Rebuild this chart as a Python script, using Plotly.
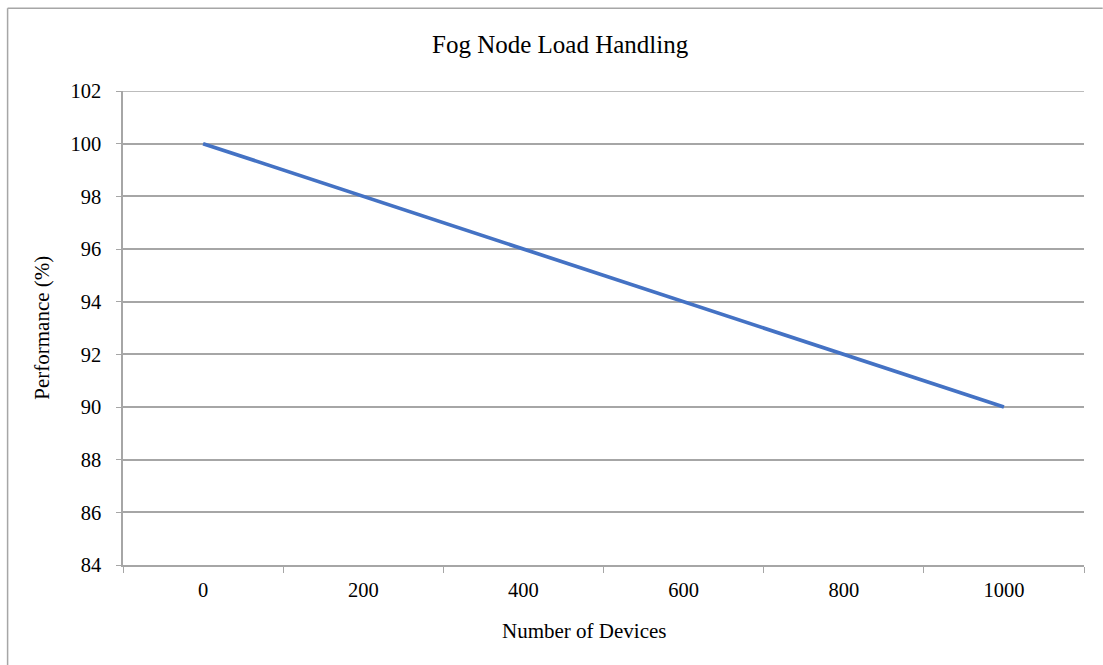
import plotly.graph_objects as go

# Chart data
devices = ["0", "200", "400", "600", "800", "1000"]
performance = [100, 98, 96, 94, 92, 90]
y_ticks = [84, 86, 88, 90, 92, 94, 96, 98, 100, 102]

W, H = 1103, 665
L, R, T, B = 122.5, 1084.3, 90.7, 565.0  # plot area edges in pixels

FONT = "Liberation Serif, Times New Roman, serif"
GRID = "#A6A6A6"
BLUE = "#4472C4"


def px_x(x):
    return (x - L) / (R - L)


def px_y(y):
    return (B - y) / (B - T)


fig = go.Figure()
fig.add_trace(go.Scatter(
    x=devices, y=performance, mode="lines",
    line=dict(color=BLUE, width=3.7),
    showlegend=False, hoverinfo="skip",
))

# outer chart frame: left edge and top edge running to the page side
frame = [
    dict(type="line", xref="paper", yref="paper",
         x0=px_x(7), x1=px_x(7), y0=px_y(H), y1=px_y(8),
         line=dict(color=GRID, width=1.5), layer="below"),
    dict(type="line", xref="paper", yref="paper",
         x0=px_x(7), x1=px_x(W), y0=px_y(8), y1=px_y(8),
         line=dict(color=GRID, width=1.5), layer="below"),
]
# gridline at the top of the value range
top_grid = dict(type="line", xref="paper", yref="y",
                x0=0, x1=1, y0=y_ticks[-1], y1=y_ticks[-1],
                line=dict(color=GRID, width=1.5), layer="below")

fig.update_layout(
    width=W, height=H,
    margin=dict(l=L, r=W - R, t=T, b=H - B, autoexpand=False),
    paper_bgcolor="white", plot_bgcolor="white",
    font=dict(family=FONT, color="black", size=21),
    xaxis=dict(
        type="category", range=[-0.5, len(devices) - 0.5],
        tickson="boundaries", ticks="outside", ticklen=6, tickcolor=GRID,
        showline=True, linecolor=GRID, linewidth=1.5,
        showgrid=False, zeroline=False,
        tickfont=dict(family=FONT, size=20.5, color="black"),
        ticklabelstandoff=6,
    ),
    yaxis=dict(
        range=[y_ticks[0], y_ticks[-1]], tickvals=y_ticks,
        ticks="outside", ticklen=5, tickcolor=GRID,
        showline=True, linecolor=GRID, linewidth=1.5,
        showgrid=True, gridcolor=GRID, gridwidth=1.5,
        zeroline=False,
        tickfont=dict(family=FONT, size=20.5, color="black"),
        ticklabelstandoff=11,
    ),
    shapes=frame + [top_grid],
    annotations=[
        dict(text="Fog Node Load Handling", xref="paper", yref="paper",
             x=px_x(560), y=px_y(44), showarrow=False,
             xanchor="center", yanchor="middle",
             font=dict(family=FONT, size=25, color="black")),
        dict(text="Number of Devices", xref="paper", yref="paper",
             x=px_x(584), y=px_y(631), showarrow=False,
             xanchor="center", yanchor="middle",
             font=dict(family=FONT, size=21, color="black")),
        dict(text="Performance (%)", xref="paper", yref="paper",
             x=px_x(42), y=px_y(328), showarrow=False, textangle=-90,
             xanchor="center", yanchor="middle",
             font=dict(family=FONT, size=21, color="black")),
    ],
)

fig.write_html("out.html", config={"displayModeBar": False})
